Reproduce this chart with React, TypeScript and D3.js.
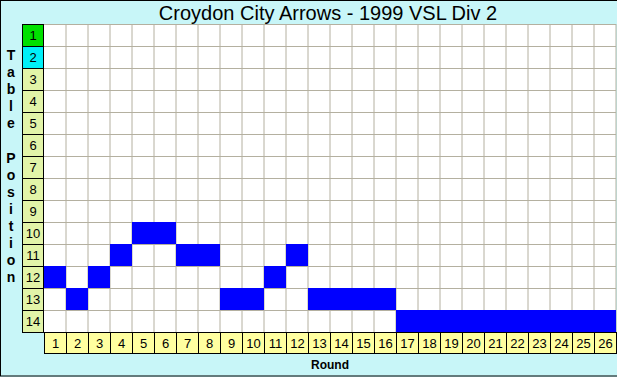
import React from "react";
import * as d3 from "d3";

const TITLE = "Croydon City Arrows - 1999 VSL Div 2";
const rounds = d3.range(1, 27);
const positions = d3.range(1, 15);
const tablePos = [12, 13, 12, 11, 10, 10, 11, 11, 13, 13, 12, 11, 13, 13, 13, 13, 14, 14, 14, 14, 14, 14, 14, 14, 14, 14];
const yLabel = "Table Position";
const xLabel = "Round";

const W = 617;
const H = 377;
const FONT = "'Liberation Sans', Arial, sans-serif";

export default function App() {
  const x = d3.scaleBand<number>().domain(rounds).range([44, 616]);
  const y = d3.scaleBand<number>().domain(positions).range([24, 332]);
  const bw = x.bandwidth();
  const bh = y.bandwidth();
  const gridColor = "#b4b0a0";
  const rowFill = (p: number) => (p === 1 ? "#00e000" : p === 2 ? "#00f0f8" : "#e2f4a8");

  return (
    <div style={{ position: "fixed", left: 0, top: 0 }}>
      <svg width={W} height={H} style={{ display: "block" }}>
        <rect x={0} y={0} width={W} height={H} fill="#c8f6f8" />
        <rect x={0.5} y={0.5} width={W + 20} height={H - 1.5} fill="none" stroke="#000" strokeWidth={1} />
        <text x={328} y={20} textAnchor="middle" fontFamily={FONT} fontSize={20} fill="#000">{TITLE}</text>
        {/* plot area */}
        <rect x={44} y={24} width={616 - 44} height={332 - 24} fill="#fff" />
        {rounds.map((r) => (
          <line key={"v" + r} x1={(x(r) as number) + bw} x2={(x(r) as number) + bw} y1={24} y2={332} stroke={gridColor} />
        ))}
        {positions.map((p) => (
          <line key={"h" + p} x1={44} x2={616} y1={(y(p) as number) + 0.5} y2={(y(p) as number) + 0.5} stroke={gridColor} />
        ))}
        {/* data cells */}
        {tablePos.map((p, i) => (
          <rect key={"c" + i} x={x(rounds[i]) as number} y={y(p) as number} width={bw} height={bh} fill="#0000ff" />
        ))}
        {/* row labels */}
        {positions.map((p) => (
          <g key={"rl" + p}>
            <rect x={22.5} y={(y(p) as number) + 0.5} width={bw - 1} height={bh} fill={rowFill(p)} stroke="#000" />
            <text x={33} y={(y(p) as number) + bh / 2 + 5} textAnchor="middle" fontFamily={FONT} fontSize={13} fill="#000">{p}</text>
          </g>
        ))}
        {/* column labels */}
        {rounds.map((r) => (
          <g key={"cl" + r}>
            <rect x={(x(r) as number) + 0.5} y={332.5} width={bw} height={bh - 1} fill="#ffffa0" stroke="#000" />
            <text x={(x(r) as number) + bw / 2 + 0.5} y={348} textAnchor="middle" fontFamily={FONT} fontSize={13} fill="#000">{r}</text>
          </g>
        ))}
        <text x={330} y={369} textAnchor="middle" fontFamily={FONT} fontSize={12} fontWeight="bold" fill="#000">{xLabel}</text>
        {yLabel.split("").map((ch, i) => (
          <text key={"yl" + i} x={11} y={60 + i * 17.1} textAnchor="middle" fontFamily={FONT} fontSize={14} fontWeight="bold" fill="#000">{ch}</text>
        ))}
      </svg>
    </div>
  );
}
